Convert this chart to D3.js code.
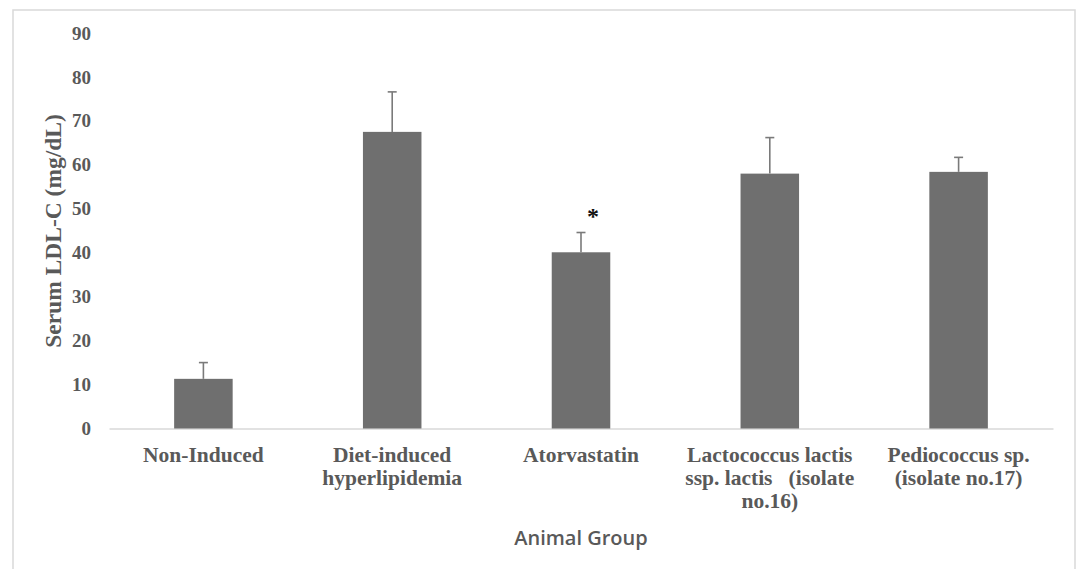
<!DOCTYPE html>
<html>
<head>
<meta charset="utf-8">
<script src="https://cdn.jsdelivr.net/npm/d3@7"></script>
<style>
  html, body { margin: 0; padding: 0; background: #fff; }
  svg { display: block; }
</style>
</head>
<body>
<svg id="chart" width="1078" height="569"></svg>
<script>
// Group names and their wrapped axis labels
const groups = ["Non-Induced", "Diet-induced hyperlipidemia", "Atorvastatin",
  "Lactococcus lactis ssp. lactis (isolate no.16)", "Pediococcus sp. (isolate no.17)"];
const groupLabelLines = [
  ["Non-Induced"],
  ["Diet-induced", "hyperlipidemia"],
  ["Atorvastatin"],
  ["Lactococcus lactis", "ssp. lactis   (isolate", "no.16)"],
  ["Pediococcus sp.", "(isolate no.17)"]
];
// Mean serum LDL-C (mg/dL) and upper error (SD)
const ldlMean = [11.3, 67.5, 40.1, 58.0, 58.4];
const ldlError = [3.7, 9.1, 4.5, 8.2, 3.3];
// Groups marked as significant
const significant = [false, false, true, false, false];
const yTicks = [0, 10, 20, 30, 40, 50, 60, 70, 80, 90];

const svg = d3.select("#chart");
const textGray = "#595959";
const serif = "'Liberation Serif', 'Times New Roman', serif";

// outer frame
svg.append("rect")
  .attr("x", 13).attr("y", 10)
  .attr("width", 1062).attr("height", 580)
  .attr("fill", "none").attr("stroke", "#d9d9d9").attr("stroke-width", 1.5);

const plot = { left: 109, right: 1053, top: 33, bottom: 428.5 };

const x = d3.scaleBand()
  .domain(groups)
  .range([plot.left, plot.right])
  .paddingInner(0.69)
  .paddingOuter(0.345);

const y = d3.scaleLinear()
  .domain([0, 90])
  .range([plot.bottom, plot.top]);

// y axis tick labels (no axis line, no tick marks)
const yAxis = svg.append("g")
  .attr("transform", `translate(${plot.left},0)`)
  .call(d3.axisLeft(y).tickValues(yTicks).tickSize(0).tickPadding(18));
yAxis.select(".domain").remove();
yAxis.selectAll("text")
  .attr("font-family", serif)
  .attr("font-weight", "bold")
  .attr("font-size", 19)
  .attr("fill", textGray);

// baseline
const xAxis = svg.append("g")
  .attr("transform", `translate(0,${plot.bottom})`)
  .call(d3.axisBottom(x).tickSize(0).tickFormat(""));
xAxis.select(".domain").attr("stroke", "#d9d9d9").attr("stroke-width", 1.5);

// bars
const bw = x.bandwidth();
svg.append("g").selectAll("rect")
  .data(groups)
  .join("rect")
  .attr("x", d => x(d))
  .attr("y", (d, i) => y(ldlMean[i]))
  .attr("width", bw)
  .attr("height", (d, i) => y(0) - y(ldlMean[i]))
  .attr("fill", "#6f6f6f");

// error bars (upper only)
const eb = svg.append("g").attr("stroke", "#7a7a7a").attr("stroke-width", 1.6);
groups.forEach((g, i) => {
  const cx = x(g) + bw / 2;
  const top = y(ldlMean[i] + ldlError[i]);
  eb.append("line").attr("x1", cx).attr("x2", cx)
    .attr("y1", y(ldlMean[i])).attr("y2", top);
  eb.append("line").attr("x1", cx - 4.5).attr("x2", cx + 4.5)
    .attr("y1", top).attr("y2", top);
});

// significance marker
groups.forEach((g, i) => {
  if (!significant[i]) return;
  svg.append("text")
    .attr("x", x(g) + bw / 2 + 12)
    .attr("y", y(ldlMean[i] + ldlError[i]) - 9)
    .attr("text-anchor", "middle")
    .attr("font-family", serif)
    .attr("font-weight", "bold")
    .attr("font-size", 24)
    .attr("fill", "#111")
    .text("*");
});

// category labels
const catG = svg.append("g");
groups.forEach((g, i) => {
  const t = catG.append("text")
    .attr("x", x(g) + bw / 2)
    .attr("y", 461.5)
    .attr("text-anchor", "middle")
    .attr("font-family", serif)
    .attr("font-weight", "bold")
    .attr("font-size", 21.5)
    .attr("fill", textGray)
    .style("white-space", "pre");
  groupLabelLines[i].forEach((line, j) => {
    t.append("tspan")
      .attr("x", x(g) + bw / 2)
      .attr("dy", j === 0 ? 0 : 23.3)
      .text(line);
  });
});

// y axis title
svg.append("text")
  .attr("transform", `translate(61,231) rotate(-90)`)
  .attr("text-anchor", "middle")
  .attr("font-family", serif)
  .attr("font-weight", "bold")
  .attr("font-size", 23.5)
  .attr("fill", textGray)
  .text("Serum LDL-C (mg/dL)");

// x axis title
svg.append("text")
  .attr("x", (plot.left + plot.right) / 2)
  .attr("y", 545)
  .attr("text-anchor", "middle")
  .attr("font-family", "'Open Sans', sans-serif")
  .attr("font-weight", 600)
  .attr("font-size", 20)
  .attr("fill", textGray)
  .text("Animal Group");
</script>
</body>
</html>
